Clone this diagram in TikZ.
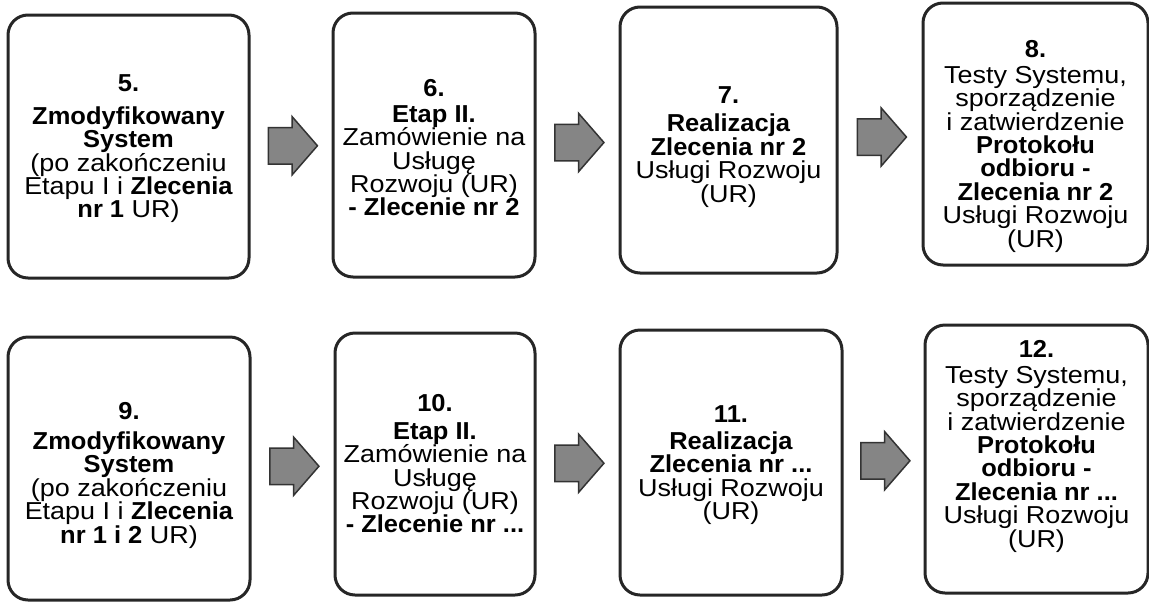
\documentclass[tikz,border=0pt]{standalone}
\usepackage{fontspec}
\setmainfont{Liberation Sans}[FakeStretch=1.1, BoldFeatures={FakeStretch=1.04}]
\usetikzlibrary{shapes.arrows,calc}

\tikzset{
  stepbox/.style={draw=black!85, line width=3pt, rounded corners=20pt, inner sep=0pt},
  steptext/.style={align=center, inner sep=0pt, font=\fontsize{24.5}{23.4}\selectfont},
  bigarrow/.style={single arrow, draw=black!80, fill=black!48, line width=1.5pt,
    inner xsep=0pt, inner ysep=17.5pt, minimum height=49pt, xshift=-6pt,
    single arrow head extend=11pt, single arrow tip angle=98}
}

\begin{document}
\begin{tikzpicture}[x=1pt,y=-1pt]
\useasboundingbox (0,0) rectangle (1149,603);

% first row
\node[stepbox, minimum width=241pt, minimum height=263pt] (b5) at (128.5,146.5) {};
\node[steptext] (t5) at ([yshift=-2.5pt]b5.center)
  {\textbf{5.}\\[9pt]
   \textbf{Zmodyfikowany}\\\textbf{System}\\(po zakończeniu\\
   Etapu I i \textbf{Zlecenia}\\\textbf{nr 1} UR)};
\node[stepbox, minimum width=202pt, minimum height=264pt] (b6) at (434,145) {};
\node[steptext] (t6) at ([yshift=-3pt]b6.center)
  {\textbf{6.}\\[2pt]
   \textbf{Etap II.}\\Zamówienie na\\Usługę\\Rozwoju (UR)\\\textbf{- Zlecenie nr 2}};
\node[stepbox, minimum width=217pt, minimum height=266pt] (b7) at (728.5,140) {};
\node[steptext] (t7) at ([yshift=-7pt]b7.center)
  {\textbf{7.}\\[5pt]
   \textbf{Realizacja}\\\textbf{Zlecenia nr 2}\\Usługi Rozwoju\\(UR)};
\node[stepbox, minimum width=225pt, minimum height=262pt] (b8) at (1035.5,134) {};
\node[steptext] (t8) at ([yshift=-12.5pt]b8.center)
  {\textbf{8.}\\[2pt]
   Testy Systemu,\\sporządzenie\\i zatwierdzenie\\\textbf{Protokołu}\\
   \textbf{odbioru -}\\\textbf{Zlecenia nr 2}\\Usługi Rozwoju\\(UR)};

% second row
\node[stepbox, minimum width=242pt, minimum height=263pt] (b9) at (129,468.5) {};
\node[steptext] (t9) at ([yshift=-6.5pt]b9.center)
  {\textbf{9.}\\[7pt]
   \textbf{Zmodyfikowany}\\\textbf{System}\\(po zakończeniu\\
   Etapu I i \textbf{Zlecenia}\\\textbf{nr 1 i 2} UR)};
\node[stepbox, minimum width=200pt, minimum height=262pt] (b10) at (435,464) {};
\node[steptext] (t10) at (b10.center)
  {\textbf{10.}\\[4pt]
   \textbf{Etap II.}\\Zamówienie na\\Usługę\\Rozwoju (UR)\\\textbf{- Zlecenie nr ...}};
\node[stepbox, minimum width=222pt, minimum height=265pt] (b11) at (731,462.5) {};
\node[steptext] (t11) at ([yshift=-2.5pt]b11.center)
  {\textbf{11.}\\[4pt]
   \textbf{Realizacja}\\\textbf{Zlecenia nr ...}\\Usługi Rozwoju\\(UR)};
\node[stepbox, minimum width=223pt, minimum height=268pt] (b12) at (1036.5,459) {};
\node[steptext] (t12) at ([yshift=12.5pt]b12.center)
  {\textbf{12.}\\[2pt]
   Testy Systemu,\\sporządzenie\\i zatwierdzenie\\\textbf{Protokołu}\\
   \textbf{odbioru -}\\\textbf{Zlecenia nr ...}\\Usługi Rozwoju\\(UR)};

% arrows between the steps
\node[bigarrow] (a56) at ($(b5.east)!0.5!(b6.west)$) {};
\node[bigarrow] (a67) at ($(b6.east)!0.5!(b7.west)$) {};
\node[bigarrow] (a78) at ($(b7.east)!0.5!(b8.west)$) {};
\node[bigarrow] (a910) at ($(b9.east)!0.5!(b10.west)$) {};
\node[bigarrow] (a1011) at ($(b10.east)!0.5!(b11.west)$) {};
\node[bigarrow] (a1112) at ($(b11.east)!0.5!(b12.west)$) {};
\end{tikzpicture}
\end{document}
